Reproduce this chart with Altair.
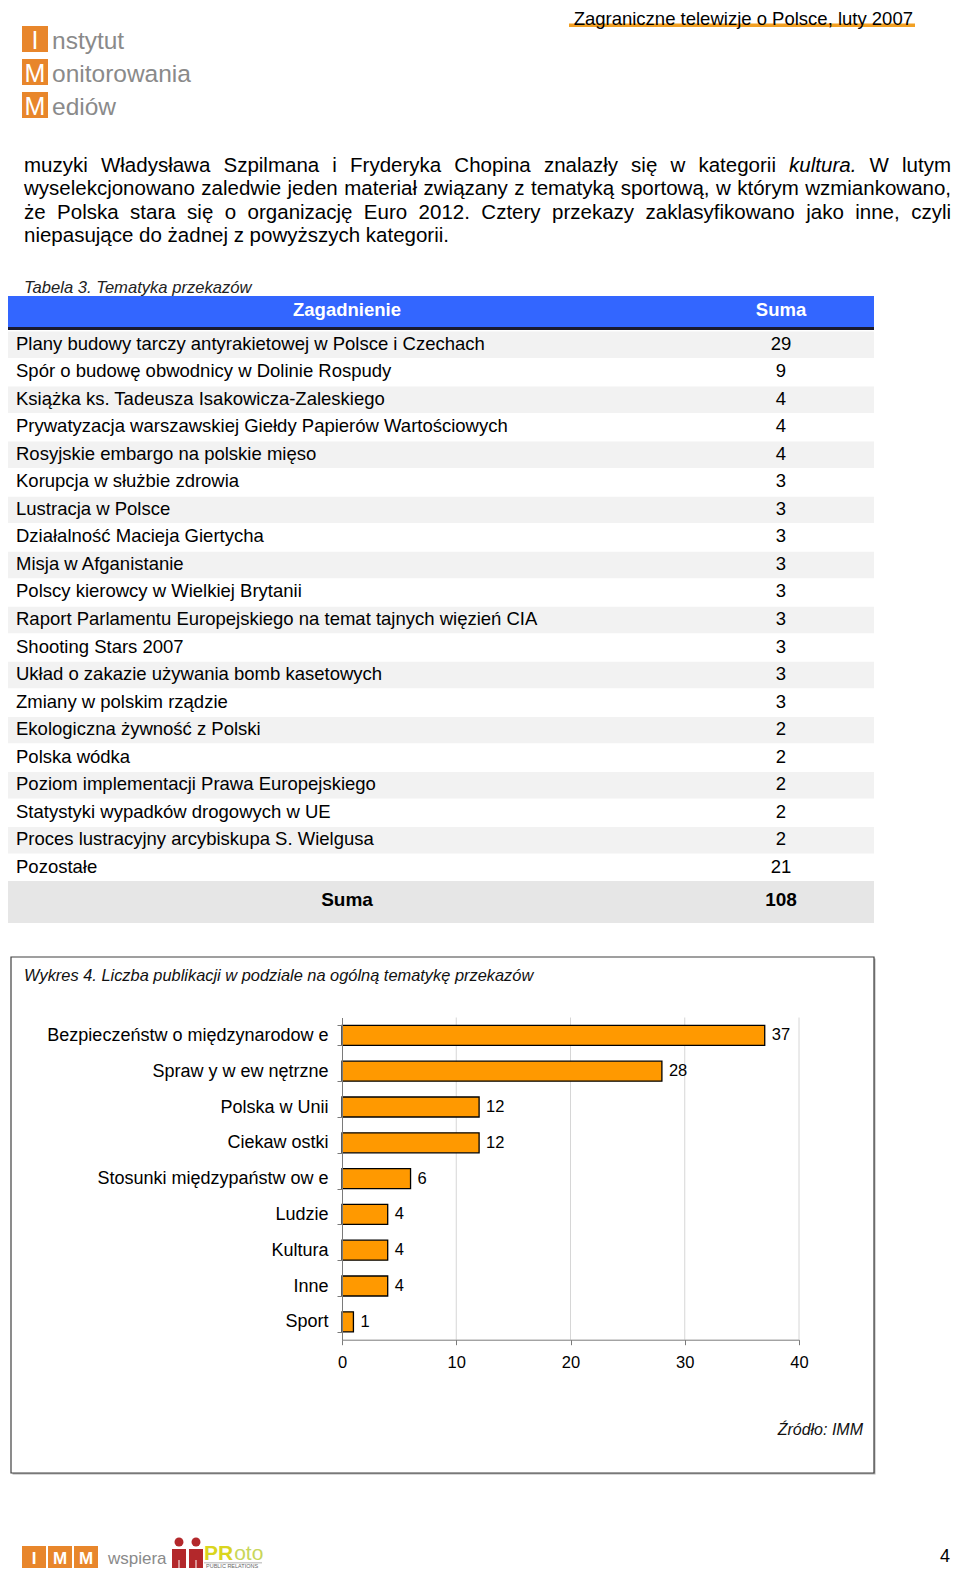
import altair as alt
import pandas as pd

FONT = "Liberation Sans"
W, H = 944, 1560

# ---------------- content ----------------
header_title = "Zagraniczne telewizje o Polsce, luty 2007"
logo_letters = ["I", "M", "M"]
logo_rest = ["nstytut", "onitorowania", "ediów"]

paragraph_lines = [
    "muzyki Władysława Szpilmana i Fryderyka Chopina znalazły się w kategorii kultura. W lutym",
    "wyselekcjonowano zaledwie jeden materiał związany z tematyką sportową, w którym wzmiankowano,",
    "że Polska stara się o organizację Euro 2012. Cztery przekazy zaklasyfikowano jako inne, czyli",
    "niepasujące do żadnej z powyższych kategorii.",
]
italic_words = ["kultura."]

table_caption = "Tabela 3. Tematyka przekazów"
table_headers = ["Zagadnienie", "Suma"]
table_topics = [
    "Plany budowy tarczy antyrakietowej w Polsce i Czechach",
    "Spór o budowę obwodnicy w Dolinie Rospudy",
    "Książka ks. Tadeusza Isakowicza-Zaleskiego",
    "Prywatyzacja warszawskiej Giełdy Papierów Wartościowych",
    "Rosyjskie embargo na polskie mięso",
    "Korupcja w służbie zdrowia",
    "Lustracja w Polsce",
    "Działalność Macieja Giertycha",
    "Misja w Afganistanie",
    "Polscy kierowcy w Wielkiej Brytanii",
    "Raport Parlamentu Europejskiego na temat tajnych więzień CIA",
    "Shooting Stars 2007",
    "Układ o zakazie używania bomb kasetowych",
    "Zmiany w polskim rządzie",
    "Ekologiczna żywność z Polski",
    "Polska wódka",
    "Poziom implementacji Prawa Europejskiego",
    "Statystyki wypadków drogowych w UE",
    "Proces lustracyjny arcybiskupa S. Wielgusa",
    "Pozostałe",
]
table_counts = [29, 9, 4, 4, 4, 3, 3, 3, 3, 3, 3, 3, 3, 3, 2, 2, 2, 2, 2, 21]
table_total_label = "Suma"

chart_title = "Wykres 4. Liczba publikacji w podziale na ogólną tematykę przekazów"
chart_categories = [
    "Bezpieczeństw o międzynarodow e",
    "Spraw y w ew nętrzne",
    "Polska w  Unii",
    "Ciekaw ostki",
    "Stosunki międzypaństw ow e",
    "Ludzie",
    "Kultura",
    "Inne",
    "Sport",
]
chart_values = [37, 28, 12, 12, 6, 4, 4, 4, 1]
x_ticks = [0, 10, 20, 30, 40]
source_note = "Źródło: IMM"

footer_letters = ["I", "M", "M"]
footer_word = "wspiera"
footer_brand = ["PR", "oto"]
footer_brand_sub = "PUBLIC RELATIONS"
page_number = "4"

# ---------------- text metrics (Helvetica/Arial widths, 1/1000 em) ----------------
HELV = {
    " ": 278, ",": 278, ".": 278, "-": 333, ":": 278,
    "a": 556, "b": 556, "c": 500, "d": 556, "e": 556, "f": 278, "g": 556, "h": 556,
    "i": 222, "j": 222, "k": 500, "l": 222, "m": 833, "n": 556, "o": 556, "p": 556,
    "q": 556, "r": 333, "s": 500, "t": 278, "u": 556, "v": 500, "w": 722, "x": 500,
    "y": 500, "z": 500,
    "A": 667, "B": 667, "C": 722, "D": 722, "E": 667, "F": 611, "G": 778, "H": 722,
    "I": 278, "J": 500, "K": 667, "L": 556, "M": 833, "N": 722, "O": 778, "P": 667,
    "Q": 778, "R": 722, "S": 667, "T": 611, "U": 722, "V": 667, "W": 944, "X": 667,
    "Y": 667, "Z": 611,
    "ą": 556, "ę": 556, "ł": 222, "ó": 556, "ś": 500, "ż": 500, "ź": 500, "ć": 500,
    "ń": 556, "Ż": 611, "Ł": 556, "Ś": 667,
}


def measure(s, size):
    return sum(HELV.get(ch, 556) for ch in s) * size / 1000.0


PARA_SIZE = 20.5
PARA_LEFT, PARA_RIGHT = 16, 943
PARA_BASE, PARA_LEAD = 164, 23.3

word_rows = []
for li, line in enumerate(paragraph_lines):
    words = line.split()
    widths = [measure(w, PARA_SIZE) for w in words]
    if li < len(paragraph_lines) - 1 and len(words) > 1:
        gap = (PARA_RIGHT - PARA_LEFT - sum(widths)) / (len(words) - 1)
    else:
        gap = measure(" ", PARA_SIZE)
    x = PARA_LEFT
    for w, wd in zip(words, widths):
        word_rows.append({"word": w, "px": x, "py": PARA_BASE + li * PARA_LEAD,
                          "italic": w in italic_words})
        x += wd + gap
df_words = pd.DataFrame(word_rows)

one = pd.DataFrame({"k": [0]})


def txt(s, x, y, size, color="#000000", align="left", weight="normal", style="normal"):
    return alt.Chart(one).mark_text(
        text=s, align=align, baseline="alphabetic", fontSize=size, fontWeight=weight,
        fontStyle=style, font=FONT, color=color,
    ).encode(x=alt.value(x), y=alt.value(y))


def rect(x1, y1, x2, y2, fill, stroke=None, sw=1.0):
    if stroke:
        mk = alt.Chart(one).mark_rect(fill=fill, stroke=stroke, strokeWidth=sw)
    else:
        mk = alt.Chart(one).mark_rect(fill=fill, strokeWidth=0)
    return mk.encode(x=alt.value(x1), x2=alt.value(x2), y=alt.value(y1), y2=alt.value(y2))


layers = []

# ---------------- header ----------------
layers.append(rect(561, 15.5, 907, 19, "#F2A023"))
layers.append(txt(header_title, 905, 17, 18.5, align="right"))

# ---------------- logo ----------------
LOGO_ORANGE = "#E8862B"
for i, (L, rest) in enumerate(zip(logo_letters, logo_rest)):
    top = 18 + i * 33
    layers.append(rect(14, top, 40, top + 26, LOGO_ORANGE))
    layers.append(txt(L, 27, top + 23, 25, color="white", align="center"))
    layers.append(txt(rest, 44, top + 23, 24.5, color="#8A8A8A"))

# ---------------- paragraph ----------------
wx = alt.X("px:Q", scale=None, axis=None)
wy = alt.Y("py:Q", scale=None, axis=None)
layers.append(
    alt.Chart(df_words[~df_words["italic"]]).mark_text(
        align="left", baseline="alphabetic", fontSize=PARA_SIZE, font=FONT, color="black"
    ).encode(x=wx, y=wy, text="word:N")
)
layers.append(
    alt.Chart(df_words[df_words["italic"]]).mark_text(
        align="left", baseline="alphabetic", fontSize=PARA_SIZE, font=FONT, color="black",
        fontStyle="italic"
    ).encode(x=wx, y=wy, text="word:N")
)

# ---------------- table ----------------
layers.append(txt(table_caption, 16, 285, 16.6, color="#222222", style="italic"))
layers.append(rect(0, 288, 866, 319, "#3366FF"))
layers.append(rect(0, 319, 866, 322, "#1A1A2E"))
layers.append(txt(table_headers[0], 339, 308, 18.5, color="white", align="center", weight="bold"))
layers.append(txt(table_headers[1], 773, 308, 18.5, color="white", align="center", weight="bold"))

df_table = pd.DataFrame({"row": list(range(len(table_topics))), "topic": table_topics,
                         "count": table_counts})
row_y = alt.Y("row:O", scale=alt.Scale(domain=list(range(len(table_topics))), range=[323.5, 873],
                                       paddingInner=0.04, paddingOuter=0.0), axis=None)
t_bands = alt.Chart(df_table).transform_filter("datum.row % 2 == 0").mark_rect(
    color="#F2F2F2").encode(y=row_y, x=alt.value(0), x2=alt.value(866))
t_labels = alt.Chart(df_table).mark_text(
    align="left", baseline="alphabetic", dy=5, fontSize=18.5, font=FONT, color="black"
).encode(y=row_y, x=alt.value(8), text="topic:N")
t_counts = alt.Chart(df_table).mark_text(
    align="center", baseline="alphabetic", dy=5, fontSize=18.5, font=FONT, color="black"
).encode(y=row_y, x=alt.value(773), text="count:Q")
layers.append(alt.layer(t_bands, t_labels, t_counts))

layers.append(rect(0, 873, 866, 915, "#E6E6E6"))
layers.append(txt(table_total_label, 339, 898, 19, align="center", weight="bold"))
layers.append(txt(str(sum(table_counts)), 773, 898, 19, align="center", weight="bold"))

# ---------------- chart box ----------------
layers.append(rect(4.5, 950.5, 867.5, 1466.5, "#B0B0B0"))
layers.append(rect(3, 949, 866, 1465, "#FFFFFF", stroke="#404040", sw=1.2))
layers.append(txt(chart_title, 16, 973, 16.4, color="#111111", style="italic"))

# ---------------- bar chart ----------------
Y_TOP, Y_BOT = 1009.5, 1331.7
X0, X1 = 334, 791
AX = "#7A7A7A"
df_chart = pd.DataFrame({"cat": chart_categories, "value": chart_values})
df_grid = pd.DataFrame({"value": x_ticks[1:]})

bx = alt.X(
    "value:Q",
    scale=alt.Scale(domain=[x_ticks[0], x_ticks[-1]], range=[X0, X1], nice=False),
    axis=alt.Axis(orient="bottom", offset=-(H - Y_BOT), values=x_ticks, grid=False,
                  domainColor=AX, tickColor=AX, tickSize=5, labelFontSize=16.5,
                  labelFont=FONT, labelColor="black", labelPadding=10, labelFlush=False,
                  title=None, zindex=1),
)
by = alt.Y(
    "cat:N",
    sort=chart_categories,
    scale=alt.Scale(domain=chart_categories, range=[Y_TOP, Y_BOT], paddingInner=0.44,
                    paddingOuter=0.22),
    axis=alt.Axis(orient="left", offset=-X0, tickBand="extent", tickSize=5, domainColor=AX,
                  tickColor=AX, labelFontSize=18, labelFont=FONT, labelColor="black",
                  labelPadding=9, labelLimit=400, title=None, grid=False, zindex=1),
)
grid = alt.Chart(df_grid).mark_rule(color="#D6D6D6", strokeWidth=1).encode(
    x=bx, y=alt.value(Y_TOP), y2=alt.value(Y_BOT))
bars = alt.Chart(df_chart).mark_bar(color="#FF9900", stroke="#000000", strokeWidth=1.3).encode(
    x=bx, y=by)
vals = alt.Chart(df_chart).mark_text(
    align="left", baseline="middle", dx=7, fontSize=16.5, font=FONT, color="black"
).encode(x=bx, y=by, text="value:Q")
layers.append(alt.layer(grid, bars, vals))

layers.append(txt(source_note, 855, 1427, 16, color="#111111", align="right", style="italic"))

# ---------------- footer ----------------
for i, L in enumerate(footer_letters):
    x1 = 14 + i * 26
    layers.append(rect(x1, 1538, x1 + 24, 1560, LOGO_ORANGE))
    layers.append(txt(L, x1 + 12, 1556, 17, color="white", align="center", weight="bold"))
layers.append(txt(footer_word, 100, 1556, 17, color="#8A8A8A"))

RED = "#B3282B"
for fx in (164, 181):
    layers.append(alt.Chart(one).mark_circle(size=80, color=RED, opacity=1).encode(
        x=alt.value(fx + 7), y=alt.value(1534)))
    layers.append(rect(fx, 1541, fx + 14, 1560, RED))
    layers.append(rect(fx + 6.5, 1552, fx + 7.5, 1560, "#FFFFFF"))
layers.append(txt(footer_brand[0], 196, 1552, 21, color="#DAD51E", weight="bold"))
layers.append(txt(footer_brand[1], 196 + measure("PR", 21) + 1, 1552, 21, color="#C8D65A"))
layers.append(rect(196, 1554.5, 254, 1555.2, "#999999"))
layers.append(txt(footer_brand_sub, 198, 1560, 5.5, color="#666666"))
layers.append(txt(page_number, 942, 1554, 18, align="right"))

chart = (
    alt.layer(*layers)
    .resolve_scale(x="independent", y="independent")
    .properties(width=W, height=H, autosize=alt.AutoSizeParams(type="none"), padding=0)
    .configure_view(strokeWidth=0)
)

chart.save("out.html", embed_options={"renderer": "svg", "actions": False})
